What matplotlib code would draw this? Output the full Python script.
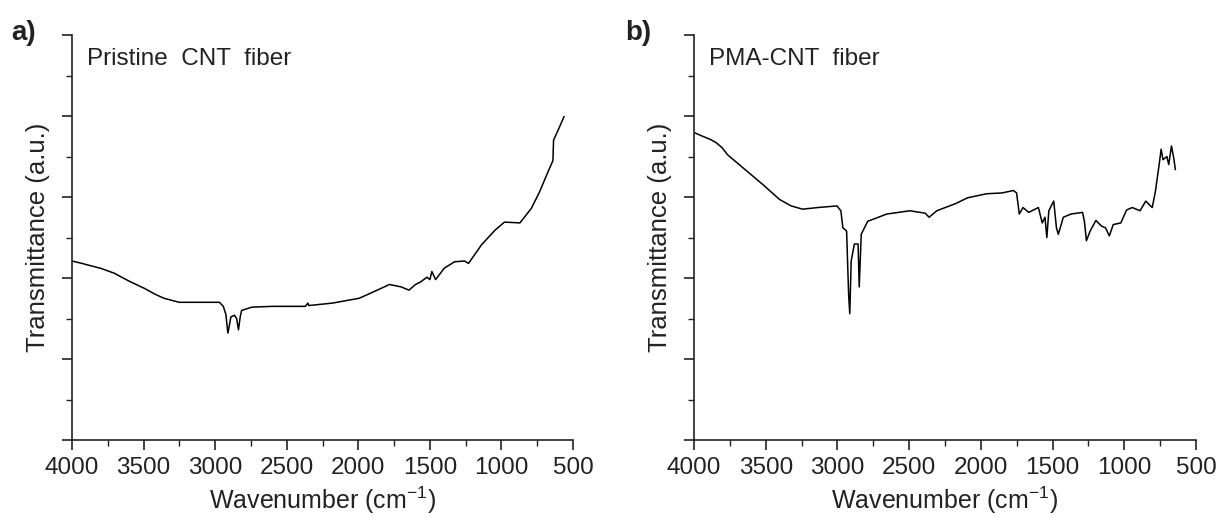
import matplotlib
matplotlib.use("Agg")
import matplotlib.pyplot as plt
from matplotlib.ticker import MultipleLocator, NullFormatter

plt.rcParams['font.family'] = ['Liberation Sans', 'DejaVu Sans']
plt.rcParams['mathtext.fontset'] = 'custom'
plt.rcParams['mathtext.rm'] = 'Liberation Sans'

# Panel a: Pristine CNT fiber
wn_a = [4000, 3930, 3867, 3800, 3706, 3600, 3492, 3420, 3358, 3251, 3100, 2970, 2943, 2925, 2911,
        2900, 2890, 2865, 2850, 2837, 2825, 2815, 2743, 2600, 2450, 2370, 2352, 2345, 2181,
        1993, 1880, 1782, 1700, 1646, 1600, 1566, 1520, 1500, 1486, 1460, 1400, 1328, 1258,
        1230, 1139, 1045, 979, 871, 791, 737, 670, 640, 636, 603, 563]
tr_a = [2.21, 2.18, 2.15, 2.12, 2.06, 1.96, 1.87, 1.80, 1.75, 1.70, 1.70, 1.70, 1.65, 1.55, 1.32,
        1.42, 1.52, 1.54, 1.50, 1.36, 1.52, 1.60, 1.64, 1.65, 1.65, 1.65, 1.69, 1.66, 1.69,
        1.75, 1.84, 1.92, 1.89, 1.85, 1.92, 1.95, 2.01, 1.98, 2.08, 1.98, 2.12, 2.20, 2.21,
        2.18, 2.41, 2.59, 2.69, 2.68, 2.86, 3.05, 3.33, 3.45, 3.70, 3.83, 3.99]

# Panel b: PMA-CNT fiber
wn_b = [3992, 3940, 3885, 3845, 3805, 3765, 3725, 3618, 3511, 3404, 3323, 3243, 3136, 3003,
        2976, 2962, 2936, 2922, 2914, 2904, 2882, 2856, 2848, 2834, 2789, 2655, 2495, 2388,
        2361, 2307, 2174, 2093, 1960, 1853, 1773, 1751, 1732, 1706, 1666, 1599, 1572, 1553,
        1540, 1526, 1492, 1473, 1460, 1425, 1371, 1291, 1278, 1264, 1238, 1198, 1158, 1131,
        1104, 1077, 1024, 984, 944, 890, 850, 823, 805, 783, 757, 743, 730, 703, 690, 671,
        655, 644]
tr_b = [3.79, 3.75, 3.71, 3.67, 3.61, 3.52, 3.46, 3.30, 3.14, 2.97, 2.89, 2.85, 2.87, 2.89,
        2.83, 2.62, 2.58, 1.80, 1.56, 2.21, 2.42, 2.42, 1.89, 2.54, 2.70, 2.79, 2.83, 2.80,
        2.75, 2.83, 2.92, 2.99, 3.04, 3.05, 3.08, 3.05, 2.79, 2.87, 2.81, 2.87, 2.68, 2.75,
        2.50, 2.83, 2.95, 2.62, 2.54, 2.75, 2.79, 2.81, 2.70, 2.46, 2.58, 2.71, 2.64, 2.62,
        2.52, 2.66, 2.68, 2.84, 2.87, 2.83, 2.95, 2.90, 2.87, 3.07, 3.40, 3.59, 3.46, 3.50,
        3.40, 3.63, 3.48, 3.34]

panel_labels = ["a)", "b)"]
sample_names = ["Pristine  CNT  fiber", "PMA-CNT  fiber"]
x_ticks = [4000, 3500, 3000, 2500, 2000, 1500, 1000, 500]

W, H = 1220, 518
fig = plt.figure(figsize=(W / 100, H / 100), dpi=100)

axes_px = [(72, 573), (694, 1196)]
top_px, bot_px = 35, 440
series = [(wn_a, tr_a), (wn_b, tr_b)]
label_px = [(11, 33), (625, 33)]
name_px = [(87, 59), (709, 59)]

for i, ((x0, x1), (wn, tr)) in enumerate(zip(axes_px, series)):
    ax = fig.add_axes([x0 / W, 1 - bot_px / H, (x1 - x0) / W, (bot_px - top_px) / H])
    ax.plot(wn, tr, color='black', lw=1.1)
    ax.set_xlim(4000, 500)
    ax.set_ylim(0, 5)
    ax.set_xticks(x_ticks)
    ax.set_xticklabels([str(t) for t in x_ticks])
    ax.xaxis.set_minor_locator(MultipleLocator(250))
    ax.yaxis.set_major_locator(MultipleLocator(1))
    ax.yaxis.set_minor_locator(MultipleLocator(0.5))
    ax.yaxis.set_major_formatter(NullFormatter())
    for s in ['top', 'right']:
        ax.spines[s].set_visible(False)
    for s in ['left', 'bottom']:
        ax.spines[s].set_linewidth(1.2)
        ax.spines[s].set_color('#222222')
    ax.tick_params(which='major', length=7, width=1.2, direction='out', labelsize=17.5,
                   pad=5, colors='#222222')
    ax.tick_params(which='minor', length=4, width=1.0, direction='out', colors='#222222')
    ax.set_xlabel('Wavenumber (cm$^{-1}$)', fontsize=18, labelpad=4, color='#222222')
    ax.set_ylabel('Transmittance (a.u.)', fontsize=18.5, labelpad=4, color='#222222')
    fig.text(label_px[i][0] / W, 1 - label_px[i][1] / H, panel_labels[i],
             fontsize=20, fontweight='bold', va='center', ha='left', color='#222222')
    fig.text(name_px[i][0] / W, 1 - name_px[i][1] / H, sample_names[i],
             fontsize=17.5, va='center', ha='left', color='#222222')

fig.savefig('out.png', dpi=100)
